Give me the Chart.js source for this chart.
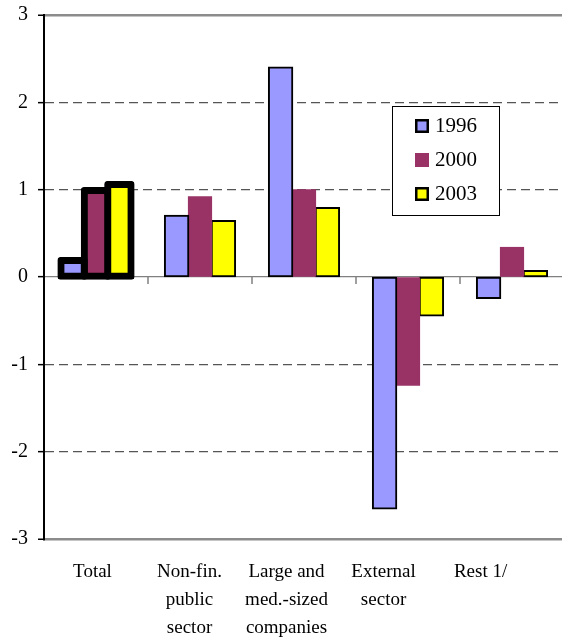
<!DOCTYPE html>
<html>
<head>
<meta charset="utf-8">
<script src="https://cdn.jsdelivr.net/npm/chart.js@4.4.1/dist/chart.umd.min.js"></script>
<style>
  html, body { margin: 0; padding: 0; background: #fff; }
  #wrap { width: 562px; height: 639px; overflow: hidden; }
</style>
</head>
<body>
<div id="wrap"><canvas id="c" width="566" height="639"></canvas></div>
<script>
// Category labels (one entry per line of each label)
const categories = [
  ['Total'],
  ['Non-fin.', 'public', 'sector'],
  ['Large and', 'med.-sized', 'companies'],
  ['External', 'sector'],
  ['Rest 1/']
];
const years = ['1996', '2000', '2003'];

// Contribution by sector, percentage points
const values1996 = [0.19, 0.70, 2.40, -2.65, -0.24];
const values2000 = [0.99, 0.92, 1.00, -1.24, 0.34];
const values2003 = [1.06, 0.64, 0.79, -0.44, 0.07];

const yMin = -3, yMax = 3, yStep = 1;

const fills = ['#9999FF', '#993366', '#FFFF00'];
const edges = [2, 0, 2];           // outline width of each series
const FONT = '"Liberation Serif", "Times New Roman", serif';

// The "Total" group is outlined with a heavy rounded edge
function barStyle(i) {
  const w = edges[i];
  return {
    backgroundColor: fills[i],
    borderColor: '#000',
    borderWidth: c => c.dataIndex === 0 ? 7 : w,
    inflateAmount: c => c.dataIndex === 0 ? 3.5 : Math.max(w / 2, 0.4),
    borderRadius: c => c.dataIndex === 0 ? 3 : 0,
    borderSkipped: false
  };
}

// Small marks on the zero line between categories
const zeroTicks = {
  id: 'zeroTicks',
  beforeDatasetsDraw(chart) {
    const xs = chart.scales.x, ys = chart.scales.y, ctx = chart.ctx;
    const y0 = ys.getPixelForValue(0);
    ctx.save();
    ctx.strokeStyle = '#808080';
    ctx.lineWidth = 1.5;
    for (let i = 1; i < categories.length; i++) {
      const bx = (xs.getPixelForValue(i - 1) + xs.getPixelForValue(i)) / 2;
      ctx.beginPath();
      ctx.moveTo(bx, y0);
      ctx.lineTo(bx, y0 + 7);
      ctx.stroke();
    }
    ctx.restore();
  }
};

// Boxed legend floating inside the plot
const boxLegend = {
  id: 'boxLegend',
  afterDraw(chart, args, o) {
    const ctx = chart.ctx;
    ctx.save();
    ctx.fillStyle = '#fff';
    ctx.fillRect(o.left, o.top, o.width, o.height);
    ctx.strokeStyle = '#000';
    ctx.lineWidth = 1;
    ctx.strokeRect(o.left + 0.5, o.top + 0.5, o.width, o.height);
    chart.data.datasets.forEach((ds, i) => {
      const cy = o.top + o.firstRow + i * o.rowGap;
      const sx = o.left + o.swatchX;
      const s = o.swatch;
      ctx.fillStyle = fills[i];
      ctx.fillRect(sx, cy - s / 2, s, s);
      if (edges[i]) {
        ctx.lineWidth = 2.5;
        ctx.strokeStyle = '#000';
        ctx.strokeRect(sx + 1.25, cy - s / 2 + 1.25, s - 2.5, s - 2.5);
      }
      ctx.fillStyle = '#000';
      ctx.font = '21px ' + FONT;
      ctx.textBaseline = 'middle';
      ctx.textAlign = 'left';
      ctx.fillText(ds.label, o.left + o.textX, cy);
    });
    ctx.restore();
  }
};

new Chart(document.getElementById('c'), {
  type: 'bar',
  data: {
    labels: categories.map(c => c.join(' ')),
    datasets: [
      Object.assign({ label: years[0], data: values1996 }, barStyle(0)),
      Object.assign({ label: years[1], data: values2000 }, barStyle(1)),
      Object.assign({ label: years[2], data: values2003 }, barStyle(2))
    ]
  },
  options: {
    responsive: false,
    devicePixelRatio: 1,
    animation: false,
    layout: { padding: { top: 0, right: 2, bottom: 0, left: 0 } },
    datasets: { bar: { categoryPercentage: 0.675, barPercentage: 1.0 } },
    plugins: {
      legend: { display: false },
      tooltip: { enabled: false },
      boxLegend: { left: 392, top: 106, width: 107, height: 109, firstRow: 20, rowGap: 34, swatchX: 23, swatch: 14, textX: 43 }
    },
    scales: {
      x: { type: 'category', display: false },
      xl: {
        type: 'linear',
        position: 'bottom',
        offset: false,
        min: 0,
        max: categories.length * 1.072,
        afterBuildTicks: s => { s.ticks = categories.map((_, i) => ({ value: i + 0.5 })); },
        afterFit: s => { s.height = 100; },
        grid: { display: false, drawTicks: false, offset: false },
        border: { display: false },
        ticks: {
          autoSkip: false,
          maxRotation: 0,
          padding: 19,
          color: '#000',
          font: { family: FONT, size: 19, lineHeight: 1.47 },
          callback: (v, i) => categories[i]
        }
      },
      y: {
        min: yMin,
        max: yMax,
        afterFit: s => { s.width = 44; s.paddingTop = 15; s.paddingBottom = 15; },
        ticks: { stepSize: yStep, padding: 10, color: '#000', font: { family: FONT, size: 20 } },
        grid: {
          color: c => Math.abs(c.tick.value) === 3 ? '#8c8c8c' : (c.tick.value === 0 ? '#808080' : '#555'),
          lineWidth: c => Math.abs(c.tick.value) === 3 ? 2.5 : 1.3,
          tickColor: '#000',
          tickLength: 6,
          tickWidth: 1.5,
          tickBorderDash: []
        },
        border: {
          color: '#000',
          width: 2,
          dash: c => (c.type === 'tick' && c.tick && c.tick.value % 3 !== 0) ? [9, 5] : []
        }
      }
    }
  },
  plugins: [zeroTicks, boxLegend]
});
</script>
</body>
</html>
